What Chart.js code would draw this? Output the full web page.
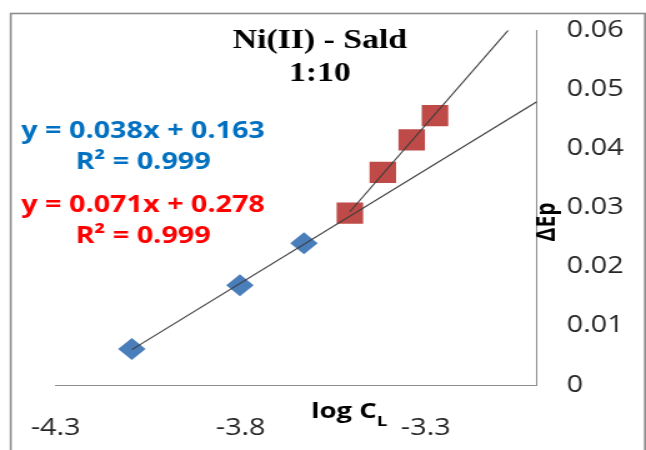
<!DOCTYPE html>
<html>
<head>
<meta charset="utf-8">
<script src="https://cdn.jsdelivr.net/npm/chart.js@4.4.1/dist/chart.umd.min.js"></script>
<style>
  html, body { margin: 0; padding: 0; background: #fff; overflow: hidden; }
  /* a figura original está esticada na horizontal, então esticamos o canvas também */
  #moldura { width: 517px; height: 450px; transform: scaleX(1.2495); transform-origin: 0 0; }
</style>
</head>
<body>
<div id="moldura"><canvas id="grafico" width="517" height="450"></canvas></div>
<script>
// Valores
const xAzul = [-4.094, -3.802, -3.629];
const yAzul = [0.0061, 0.0169, 0.0240];
const xVermelho = [-3.505, -3.416, -3.338, -3.275];
const yVermelho = [0.0291, 0.0360, 0.0415, 0.0456];

const ticksX = [-4.3, -3.8, -3.3];
const ticksY = [0, 0.01, 0.02, 0.03, 0.04, 0.05, 0.06];
const limitesX = [-4.3, -3.0];
const limitesY = [0, 0.06];

const titulo = ['Ni(II) - Sald', '1:10'];
const eqAzul = ['y = 0.038x + 0.163', 'R² = 0.999'];
const eqVermelha = ['y = 0.071x + 0.278', 'R² = 0.999'];

// Monta os pontos {x, y} a partir das listas
function juntar(xs, ys) {
    return xs.map((x, i) => ({ x: x, y: ys[i] }));
}

// Linha de tendência (mínimos quadrados), do primeiro ponto até o fim do eixo
function tendencia(xs, ys) {
    const n = xs.length;
    const mx = xs.reduce((a, b) => a + b, 0) / n;
    const my = ys.reduce((a, b) => a + b, 0) / n;
    let sxy = 0, sxx = 0;
    for (let i = 0; i < n; i++) {
        sxy += (xs[i] - mx) * (ys[i] - my);
        sxx += (xs[i] - mx) * (xs[i] - mx);
    }
    const a = sxy / sxx;
    const b = my - a * mx;
    const x0 = Math.min(...xs);
    return [{ x: x0, y: a * x0 + b }, { x: limitesX[1], y: a * limitesX[1] + b }];
}

// Textos soltos: título, equações, nomes dos eixos e moldura
const textos = {
    id: 'textos',
    beforeDraw(chart) {
        const ctx = chart.ctx;
        ctx.save();
        ctx.fillStyle = '#fff';
        ctx.fillRect(0, 0, chart.width, chart.height);
        ctx.strokeStyle = '#8c8c8c';
        ctx.lineWidth = 1.6;
        ctx.strokeRect(8.6, 13.5, 507.6, 460);
        ctx.restore();
    },
    afterDraw(chart) {
        const ctx = chart.ctx;
        ctx.save();
        ctx.textAlign = 'center';
        ctx.textBaseline = 'middle';

        ctx.fillStyle = '#000';
        ctx.font = 'bold 27px "Liberation Serif"';
        ctx.fillText(titulo[0], 256, 41);
        ctx.fillText(titulo[1], 256, 74);

        ctx.font = 'bold 23px "Open Sans"';
        ctx.fillStyle = '#0070c0';
        ctx.fillText(eqAzul[0], 114.5, 131);
        ctx.fillText(eqAzul[1], 114.5, 162);
        ctx.fillStyle = '#ff0000';
        ctx.fillText(eqVermelha[0], 114.5, 205);
        ctx.fillText(eqVermelha[1], 114.5, 236);

        // log C com L subscrito
        ctx.fillStyle = '#000';
        ctx.textAlign = 'left';
        ctx.textBaseline = 'alphabetic';
        ctx.font = 'bold 22px "Open Sans"';
        ctx.fillText('log C', 249, 418);
        const w = ctx.measureText('log C').width;
        ctx.font = 'bold 15px "Open Sans"';
        ctx.fillText('L', 249 + w, 426);

        // ΔEp girado
        ctx.translate(438.5, 222);
        ctx.rotate(-Math.PI / 2);
        ctx.textAlign = 'center';
        ctx.textBaseline = 'middle';
        ctx.font = 'bold 21px "Open Sans"';
        ctx.fillText('ΔEp', 0, 0);
        ctx.restore();
    }
};

const ctx = document.getElementById('grafico').getContext('2d');

new Chart(ctx, {
    type: 'scatter',
    data: {
        datasets: [
            {
                data: tendencia(xAzul, yAzul),
                showLine: true,
                borderColor: '#3c3c3c',
                borderWidth: 1.1,
                pointRadius: 0,
                order: 0
            },
            {
                data: tendencia(xVermelho, yVermelho),
                showLine: true,
                borderColor: '#3c3c3c',
                borderWidth: 1.1,
                pointRadius: 0,
                order: 0
            },
            {
                data: juntar(xAzul, yAzul),
                pointStyle: 'rectRot',
                pointRadius: 11,
                backgroundColor: '#4a7ebb',
                borderColor: '#4a7ebb',
                borderWidth: 0,
                order: 1
            },
            {
                data: juntar(xVermelho, yVermelho),
                pointStyle: 'rect',
                pointRadius: 15,
                backgroundColor: '#be4b48',
                borderColor: '#be4b48',
                borderWidth: 0,
                order: 1
            }
        ]
    },
    options: {
        responsive: false,
        animation: false,
        devicePixelRatio: 1,
        layout: { padding: { left: 44.5, top: 30.5, right: 0, bottom: 0 } },
        plugins: {
            legend: { display: false },
            tooltip: { enabled: false }
        },
        scales: {
            x: {
                type: 'linear',
                position: 'bottom',
                min: limitesX[0],
                max: limitesX[1],
                afterBuildTicks: eixo => { eixo.ticks = ticksX.map(v => ({ value: v })); },
                afterFit: eixo => {
                    eixo.height = 65;
                    eixo.paddingLeft = 0;
                    eixo.paddingRight = 0;
                },
                grid: { drawOnChartArea: false, drawTicks: false },
                border: { color: '#8c8c8c', width: 1 },
                ticks: {
                    padding: 30,
                    color: '#262626',
                    font: { family: 'Open Sans', size: 23 },
                    callback: v => v.toFixed(1)
                }
            },
            y: {
                type: 'linear',
                position: 'right',
                min: limitesY[0],
                max: limitesY[1],
                afterBuildTicks: eixo => { eixo.ticks = ticksY.map(v => ({ value: v })); },
                afterFit: eixo => {
                    eixo.width = 87.4;
                    eixo.paddingTop = 0;
                    eixo.paddingBottom = 0;
                },
                grid: { drawOnChartArea: false, drawTicks: false },
                border: { color: '#8c8c8c', width: 1 },
                ticks: {
                    padding: 24,
                    color: '#262626',
                    font: { family: 'Open Sans', size: 23 },
                    callback: v => v === 0 ? '0' : v.toFixed(2)
                }
            }
        }
    },
    plugins: [textos]
});
</script>
</body>
</html>
